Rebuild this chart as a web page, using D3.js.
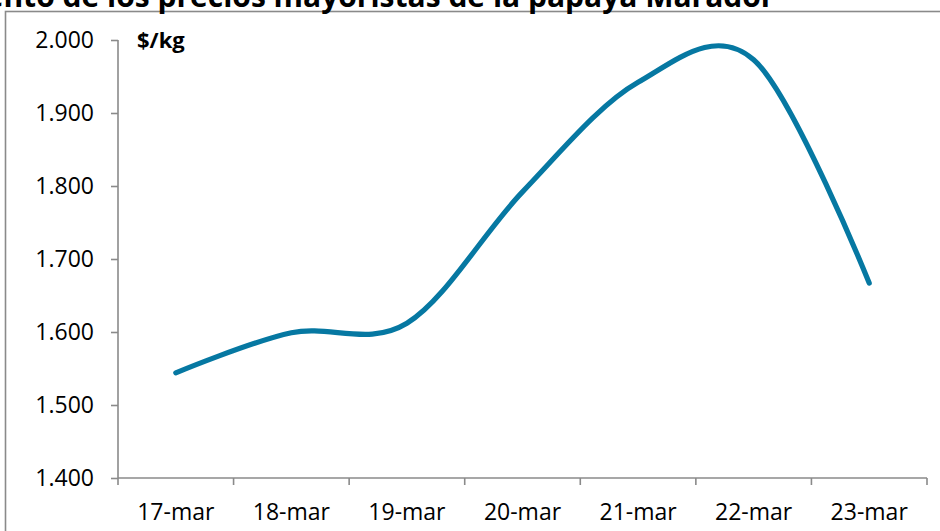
<!DOCTYPE html>
<html>
<head>
<meta charset="utf-8">
<script src="https://cdn.jsdelivr.net/npm/d3@7"></script>
<style>
  body { margin: 0; background: #fff; }
  svg { display: block; }
</style>
</head>
<body>
<div class="chart"></div>
<script>
// datos: precio mayorista papaya maradol ($/kg)
var dias = ["17-mar", "18-mar", "19-mar", "20-mar", "21-mar", "22-mar", "23-mar"];
var precios = [1544, 1599, 1612, 1792, 1942, 1973, 1667];
var yTicks = [1400, 1500, 1600, 1700, 1800, 1900, 2000];
var titulo = "Comportamiento de los precios mayoristas de la papaya Maradol";
var unidad = "$/kg";

var W = 940, H = 531;
var margin = { top: 40, right: 13, bottom: 53, left: 118 };
var width = W - margin.left - margin.right, height = H - margin.top - margin.bottom;

var svg = d3.select(".chart").append("svg")
    .attr("width", W)
    .attr("height", H);

var font = "'Open Sans', 'Noto Sans', sans-serif";

// marco del grafico
svg.append("rect")
    .attr("x", 5.5).attr("y", 11.5)
    .attr("width", W + 20).attr("height", H + 20)
    .attr("fill", "none")
    .attr("stroke", "#8a8a8a")
    .attr("stroke-width", 1.6);

// titulo (recortado arriba, como en la imagen)
svg.append("text")
    .attr("x", 770).attr("y", 7)
    .attr("text-anchor", "end")
    .attr("font-family", font)
    .attr("font-weight", "bold")
    .attr("font-size", 30)
    .text(titulo);

var g = svg.append("g")
    .attr("transform", "translate(" + margin.left + "," + margin.top + ")");

var x = d3.scaleBand().domain(dias).range([0, width]);
var y = d3.scaleLinear().domain([1400, 2000]).range([height, 0]);

var fmt = d3.formatLocale({ decimal: ",", thousands: ".", grouping: [3], currency: ["$", ""] }).format(",d");

// eje y
var yAxis = g.append("g")
    .call(d3.axisLeft(y).tickValues(yTicks).tickFormat(fmt).tickSize(7).tickPadding(17));
yAxis.select(".domain").attr("stroke", "#8a8a8a").attr("stroke-width", 1.6)
    .attr("d", "M0," + height + "V0");
yAxis.selectAll(".tick line").attr("stroke", "#8a8a8a").attr("stroke-width", 1.6);
yAxis.selectAll(".tick text")
    .attr("font-family", font).attr("font-size", 23).attr("fill", "#000");

// eje x, marcas en los limites de cada categoria
var xAxis = g.append("g")
    .attr("transform", "translate(0," + height + ")")
    .call(d3.axisBottom(x).tickSize(0).tickPadding(26));
xAxis.select(".domain").attr("stroke", "#8a8a8a").attr("stroke-width", 1.6)
    .attr("d", "M0,0H" + width);
xAxis.selectAll(".tick text")
    .attr("font-family", font).attr("font-size", 23).attr("fill", "#000");

var bordes = dias.map(function (d) { return x(d); }).concat([width]);
xAxis.selectAll(".borde").data(bordes).enter().append("line")
    .attr("class", "borde")
    .attr("x1", function (d) { return d; }).attr("x2", function (d) { return d; })
    .attr("y1", 0).attr("y2", 7)
    .attr("stroke", "#8a8a8a").attr("stroke-width", 1.6);

// unidad
g.append("text")
    .attr("x", 19).attr("y", 8)
    .attr("font-family", font)
    .attr("font-weight", "bold")
    .attr("font-size", 22)
    .text(unidad);

// linea suavizada
var line = d3.line()
    .x(function (d, i) { return x(dias[i]) + x.bandwidth() / 2; })
    .y(function (d) { return y(d); })
    .curve(d3.curveCatmullRom.alpha(0));

g.append("path")
    .datum(precios)
    .attr("d", line)
    .attr("fill", "none")
    .attr("stroke", "#0678a2")
    .attr("stroke-width", 5.2)
    .attr("stroke-linecap", "round")
    .attr("stroke-linejoin", "round");
</script>
</body>
</html>
